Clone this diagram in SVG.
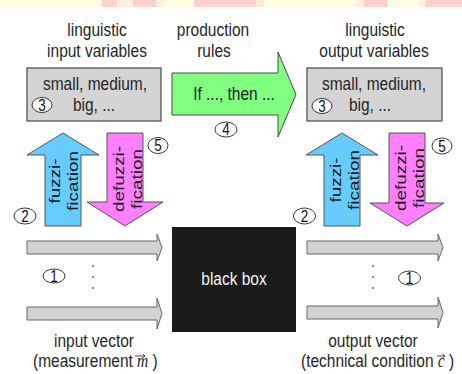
<svg xmlns="http://www.w3.org/2000/svg" width="462" height="374" viewBox="0 0 462 374">
<style>
.t{font-family:"Liberation Sans",Arial,sans-serif;font-size:15.5px;fill:#262626;text-anchor:middle}
.ts{font-family:"Liberation Sans",Arial,sans-serif;font-size:15.5px;fill:#262626}
.vt{font-family:"Liberation Sans",Arial,sans-serif;font-size:15.5px;fill:#1a1a1a;text-anchor:middle}
.num{font-family:"Liberation Sans",Arial,sans-serif;font-size:13.5px;fill:#111;text-anchor:middle}
.circ{fill:#fff;stroke:#222;stroke-width:0.9}
.box{fill:#d4d4d4;stroke:#555;stroke-width:1.3}
.gray{fill:#d2d2d2;stroke:#666;stroke-width:1}
.green{fill:#80ff80;stroke:#4a4a4a;stroke-width:1}
.blue{fill:#66ccff;stroke:#555;stroke-width:1}
.pink{fill:#ff80ff;stroke:#555;stroke-width:1}
.dot{fill:#666}
.vec{fill:none;stroke:#333;stroke-width:0.9}
</style>
<rect width="462" height="374" fill="#fff"/>
<g id="top-strip">
<rect x="0" y="0" width="102" height="7" fill="#fffee0"/>
<rect x="102" y="0" width="15" height="7" fill="#ffd2d2"/>
<rect x="117" y="0" width="16" height="7" fill="#fff0dc"/>
<rect x="133" y="0" width="23" height="7" fill="#ffd0d0"/>
<rect x="156" y="0" width="8" height="7" fill="#fff2dc"/>
<rect x="164" y="0" width="30" height="7" fill="#fffee0"/>
<rect x="194" y="0" width="62" height="7" fill="#ffd0d0"/>
<rect x="256" y="0" width="8" height="7" fill="#ffecd8"/>
<rect x="264" y="0" width="92" height="7" fill="#fffee0"/>
<rect x="356" y="0" width="8" height="7" fill="#fff0dc"/>
<rect x="364" y="0" width="23" height="7" fill="#ffd0d0"/>
<rect x="387" y="0" width="32" height="7" fill="#fffee0"/>
<rect x="419" y="0" width="7" height="7" fill="#fff0dc"/>
<rect x="426" y="0" width="36" height="7" fill="#ffd0d0"/>
</g>
<g id="connectors">
<path id="rules-arrow" class="green" d="M172,73 H278 V52 L296,94.5 L278,137 V115 H172 Z"/>
<path id="fuzzi-left" class="blue" d="M45,226 V155 H27 L63,133 L99,155 H81 V226 Z"/>
<path id="defuzzi-left" class="pink" d="M107,133 H143 V202 H163 L125,226 L87,202 H107 Z"/>
<path id="fuzzi-right" class="blue" d="M324,226 V155 H306 L342,133 L378,155 H360 V226 Z"/>
<path id="defuzzi-right" class="pink" d="M389,133 H425 V203 H444 L407,226 L370,203 H389 Z"/>
<path id="in-arrow-1" class="gray" d="M27,241 H157 V234 L162,247.5 L157,261 V254 H27 Z"/>
<path id="in-arrow-2" class="gray" d="M27,307 H157 V298 L162,313.5 L157,329 V320 H27 Z"/>
<path id="out-arrow-1" class="gray" d="M307,241 H438 V234 L443,247.5 L438,261 V254 H307 Z"/>
<path id="out-arrow-2" class="gray" d="M307,306 H438 V297 L443,312.5 L438,328 V319 H307 Z"/>
</g>
<g id="rules-label">
<text class="t" transform="translate(234,100) scale(1,1.22)">If ..., then ...</text>
</g>
<g id="fuzzi-left-label">
<text class="vt" transform="translate(60,181) scale(1,1.22) rotate(-90)">fuzzi-</text>
<text class="vt" transform="translate(78,181) scale(1,1.22) rotate(-90)">fication</text>
</g>
<g id="defuzzi-left-label">
<text class="vt" transform="translate(124,179) scale(1,1.22) rotate(-90)">defuzzi-</text>
<text class="vt" transform="translate(142,179) scale(1,1.22) rotate(-90)">fication</text>
</g>
<g id="fuzzi-right-label">
<text class="vt" transform="translate(341,180) scale(1,1.22) rotate(-90)">fuzzi-</text>
<text class="vt" transform="translate(359,180) scale(1,1.22) rotate(-90)">fication</text>
</g>
<g id="defuzzi-right-label">
<text class="vt" transform="translate(406,178) scale(1,1.22) rotate(-90)">defuzzi-</text>
<text class="vt" transform="translate(424,178) scale(1,1.22) rotate(-90)">fication</text>
</g>
<g id="input-variables">
<text class="t" transform="translate(97,36) scale(1,1.22)">linguistic</text>
<text class="t" transform="translate(97,57) scale(1,1.22)">input variables</text>
<rect class="box" x="27" y="68" width="134" height="53"/>
<text class="t" transform="translate(95,90) scale(1,1.22)">small, medium,</text>
<text class="t" transform="translate(94,111) scale(1,1.22)">big, ...</text>
</g>
<g id="production-rules">
<text class="t" transform="translate(213,36) scale(1,1.22)">production</text>
<text class="t" transform="translate(214,57) scale(1,1.22)">rules</text>
</g>
<g id="output-variables">
<text class="t" transform="translate(375,36) scale(1,1.22)">linguistic</text>
<text class="t" transform="translate(374,57) scale(1,1.22)">output variables</text>
<rect class="box" x="307" y="68" width="135" height="53"/>
<text class="t" transform="translate(374,90) scale(1,1.22)">small, medium,</text>
<text class="t" transform="translate(370,111) scale(1,1.22)">big, ...</text>
</g>
<g id="black-box">
<rect x="172" y="227" width="124" height="105" fill="#1b1b1b"/>
<text class="t" style="fill:#f2f2f2" transform="translate(234,285) scale(1,1.22)">black box</text>
</g>
<g id="input-vector">
<text class="t" transform="translate(94,347) scale(1,1.22)">input vector</text>
<text class="ts" transform="translate(33,367) scale(1,1.22)">(measurement <tspan font-family="'Liberation Serif',serif" font-style="italic">m</tspan> )</text>
<path class="vec" d="M135,356 H145 M142.5,354 L145,356 L142.5,358"/>
</g>
<g id="output-vector">
<text class="t" transform="translate(373,347) scale(1,1.22)">output vector</text>
<text class="ts" transform="translate(301,367) scale(1,1.22)">(technical condition <tspan font-family="'Liberation Serif',serif" font-style="italic">c</tspan> )</text>
<path class="vec" d="M437,356 H445 M442.5,354 L445,356 L442.5,358"/>
</g>
<g id="dots-left">
<circle class="dot" cx="93" cy="266" r="1"/>
<circle class="dot" cx="93" cy="277" r="1"/>
<circle class="dot" cx="93" cy="288" r="1"/>
</g>
<g id="dots-right">
<circle class="dot" cx="373" cy="266" r="1"/>
<circle class="dot" cx="373" cy="277" r="1"/>
<circle class="dot" cx="373" cy="288" r="1"/>
</g>
<g id="n3-left"><ellipse class="circ" cx="42" cy="105" rx="10" ry="7.5"/><text class="num" transform="translate(42,110.5) scale(1,1.22)">3</text></g>
<g id="n3-right"><ellipse class="circ" cx="322" cy="106" rx="10" ry="7.5"/><text class="num" transform="translate(322,111.5) scale(1,1.22)">3</text></g>
<g id="n4"><ellipse class="circ" cx="226" cy="129.5" rx="11" ry="7.5"/><text class="num" transform="translate(226,135) scale(1,1.22)">4</text></g>
<g id="n5-left"><ellipse class="circ" cx="158" cy="145.5" rx="10" ry="8"/><text class="num" transform="translate(158,151) scale(1,1.22)">5</text></g>
<g id="n5-right"><ellipse class="circ" cx="442" cy="146" rx="10" ry="8"/><text class="num" transform="translate(442,151.5) scale(1,1.22)">5</text></g>
<g id="n2-left"><ellipse class="circ" cx="25" cy="216" rx="11" ry="8"/><text class="num" transform="translate(25,221.5) scale(1,1.22)">2</text></g>
<g id="n2-right"><ellipse class="circ" cx="304.5" cy="216" rx="11" ry="8"/><text class="num" transform="translate(304.5,221.5) scale(1,1.22)">2</text></g>
<g id="n1-left"><ellipse class="circ" cx="54" cy="276" rx="11" ry="7"/><text class="num" transform="translate(54,281.5) scale(1,1.22)">1</text></g>
<g id="n1-right"><ellipse class="circ" cx="409.5" cy="278" rx="11" ry="7"/><text class="num" transform="translate(409.5,283.5) scale(1,1.22)">1</text></g>
</svg>
